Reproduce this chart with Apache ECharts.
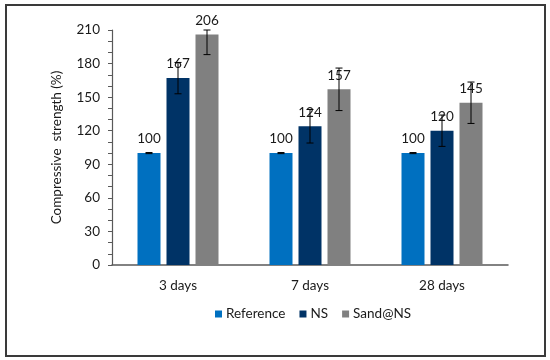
<!DOCTYPE html>
<html>
<head>
<meta charset="utf-8">
<script src="https://cdn.jsdelivr.net/npm/echarts@6/dist/echarts.min.js"></script>
<style>
html,body{margin:0;padding:0;background:#fff;}
#frame{position:absolute;left:5px;top:4px;width:537px;height:349px;border:2px solid #3a3a3a;}
#chart{position:absolute;left:0;top:0;width:550px;height:360px;}
</style>
</head>
<body>
<div id="frame"></div>
<div id="chart"></div>
<script>
const categories = ['3 days', '7 days', '28 days'];
const seriesNames = ['Reference', 'NS', 'Sand@NS'];
const referenceValues = [100, 100, 100];
const nsValues = [167, 124, 120];
const sandValues = [206, 157, 145];
const referenceErrors = [0.5, 0.5, 0.5];
const nsErrors = [14, 15, 14];
const sandErrors = [18, 19, 18.5];
const yTicks = [0, 30, 60, 90, 120, 150, 180, 210];

const colors = ['#0070C0', '#003366', '#808080'];
const values = [referenceValues, nsValues, sandValues];
const errors = [referenceErrors, nsErrors, sandErrors];
const BAR_W = 23, BAR_GAP = 6;
const yMax = yTicks[yTicks.length - 1];

const chart = echarts.init(document.getElementById('chart'));
const font = 'Lato, Liberation Sans, Arial, sans-serif';

const series = [];
values.forEach((vals, i) => {
  series.push({
    name: seriesNames[i],
    type: 'bar',
    data: vals,
    barWidth: BAR_W,
    barGap: (BAR_GAP / BAR_W * 100) + '%',
    itemStyle: { color: colors[i] },
    label: {
      show: true, position: 'top', distance: 7,
      color: '#1a1a1a', fontSize: 13.5, fontFamily: font
    },
    z: 2
  });
});
values.forEach((vals, i) => {
  const offset = (i - 1) * (BAR_W + BAR_GAP);
  series.push({
    type: 'custom',
    name: seriesNames[i] + '_err',
    data: vals.map((v, k) => [k, v - errors[i][k], Math.min(v + errors[i][k], yMax)]),
    encode: { x: 0, y: [1, 2] },
    z: 5,
    silent: true,
    renderItem: function (params, api) {
      const lo = api.coord([api.value(0), api.value(1)]);
      const hi = api.coord([api.value(0), api.value(2)]);
      const x = lo[0] + offset;
      const hw = 3.5;
      const st = { stroke: '#000', lineWidth: 1 };
      return {
        type: 'group',
        children: [
          { type: 'line', shape: { x1: x, y1: lo[1], x2: x, y2: hi[1] }, style: st },
          { type: 'line', shape: { x1: x - hw, y1: lo[1], x2: x + hw, y2: lo[1] }, style: st },
          { type: 'line', shape: { x1: x - hw, y1: hi[1], x2: x + hw, y2: hi[1] }, style: st }
        ]
      };
    }
  });
});

chart.setOption({
  animation: false,
  grid: { left: 112, top: 30, right: 42, bottom: 95 },
  legend: {
    data: seriesNames,
    top: 302,
    left: 210,
    itemWidth: 7, itemHeight: 7, itemGap: 14,
    icon: 'rect',
    textStyle: { fontSize: 13.5, color: '#1a1a1a', fontFamily: font, padding: [0, 0, 0, -1] }
  },
  xAxis: {
    type: 'category',
    data: categories,
    axisLine: { lineStyle: { color: '#595959', width: 1.5 } },
    axisTick: { show: false },
    axisLabel: { fontSize: 13.5, color: '#1a1a1a', margin: 14, fontFamily: font }
  },
  yAxis: {
    type: 'value',
    min: 0, max: yMax, interval: 30,
    name: 'Compressive  strength (%)',
    nameLocation: 'middle',
    nameGap: 48,
    nameTextStyle: { fontSize: 13.5, color: '#1a1a1a', fontFamily: font },
    axisLine: { show: true, lineStyle: { color: '#595959', width: 1.2 } },
    axisTick: { show: true, length: 4, lineStyle: { color: '#595959' } },
    minorTick: { show: true, splitNumber: 3, length: 4, lineStyle: { color: '#595959' } },
    splitLine: { show: false },
    axisLabel: { fontSize: 13.5, color: '#1a1a1a', margin: 12, fontFamily: font }
  },
  series: series
});
</script>
</body>
</html>
